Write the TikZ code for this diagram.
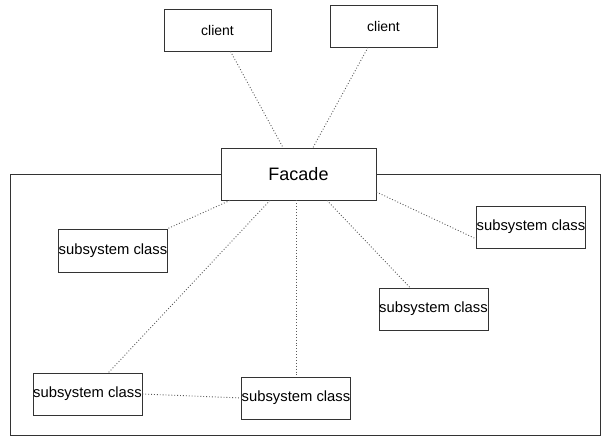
\documentclass[tikz,border=0pt]{standalone}
\usepackage{fontspec}
\setmainfont{Liberation Sans}
\begin{document}
\begin{tikzpicture}[x=1pt,y=-1pt,
  boxst/.style={draw=black!80, line width=0.8pt, fill=white, inner sep=0pt},
  subst/.style={boxst, font=\fontsize{14.8}{16}\selectfont},
  clst/.style={boxst, minimum width=107, minimum height=42, font=\fontsize{14}{16}\selectfont},
  linkst/.style={draw=black!65, line width=0.9pt, dotted},
  frame/.style={draw=black!80, line width=0.8pt}]
\useasboundingbox (0,0) rectangle (607,444);
% outer frame
\draw[frame] (10,174) rectangle (600,435);
% boxes
\node[clst] (c1) at (217.5,30) {client};
\node[clst] (c2) at (383.5,26) {client};
\node[boxst, minimum width=155, minimum height=52, font=\fontsize{18}{20}\selectfont] (fa) at (298.5,174) {Facade};
\node[subst, minimum width=108, minimum height=43] (s1) at (113,250.5) {subsystem class};
\node[subst, minimum width=108, minimum height=42] (s2) at (531,227) {subsystem class};
\node[subst, minimum width=109, minimum height=42] (s3) at (433.5,309) {subsystem class};
\node[subst, minimum width=109, minimum height=42] (s4) at (87.5,394) {subsystem class};
\node[subst, minimum width=108, minimum height=42] (s5) at (296,398) {subsystem class};
% connectors
\draw[linkst] ([xshift=13]c1.south) -- ([xshift=-15.5]fa.north);
\draw[linkst] ([xshift=-15.5]c2.south) -- ([xshift=14.5]fa.north);
\draw[linkst] ([xshift=-68.5]fa.south) -- (s1.north east);
\draw[linkst] ([xshift=-28.5]fa.south) -- ([xshift=21]s4.north);
\draw[linkst] ([xshift=-2.5]fa.south) -- (s5.north);
\draw[linkst] ([yshift=-18]fa.east) -- ([yshift=-12]s2.west);
\draw[linkst] ([xshift=28.5]fa.south) -- ([xshift=-23.5]s3.north);
\draw[linkst] (s4.east) -- (s5.west);
\end{tikzpicture}
\end{document}
